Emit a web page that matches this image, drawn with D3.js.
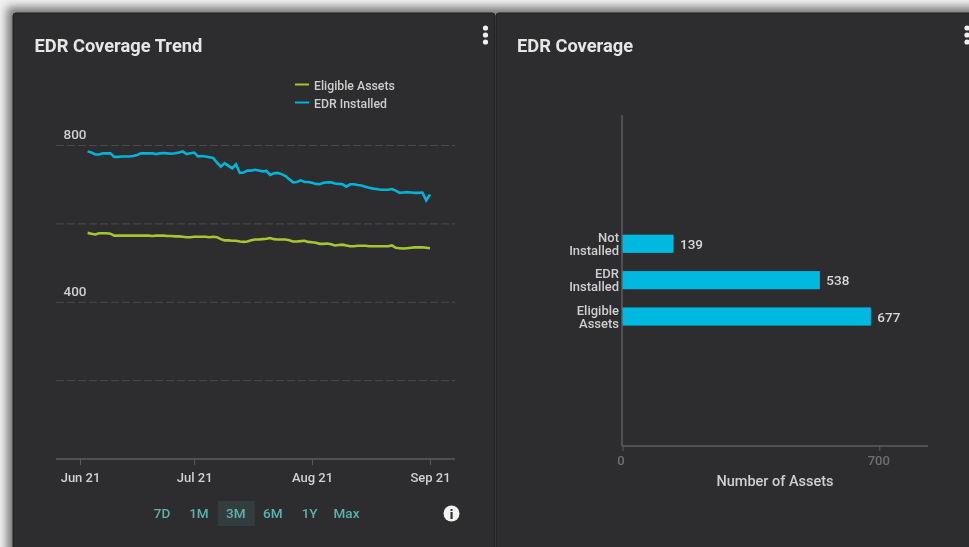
<!DOCTYPE html>
<html>
<head>
<meta charset="utf-8">
<title>EDR Coverage</title>
<script src="https://cdn.jsdelivr.net/npm/d3@7"></script>
<style>
  html, body { margin: 0; padding: 0; background: #f1f1f1; overflow: hidden; }
  svg { display: block; font-family: Roboto, sans-serif; }
  #wrap { filter: blur(0.45px); }
</style>
</head>
<body>
<div id="wrap"><svg id="chart" width="969" height="547"></svg></div>
<script>
// daily readings, Jun 23 to Sep 21
const startDay = new Date(2021, 5, 23);
const eligibleAssets = [577,575,573,576,576,576,575,570,570,570,570,570,570,570,570,570,570,569,570,570,570,569,569,568,568,567,566,566,567,567,567,567,566,567,566,561,558,558,557,557,555,554,555,558,560,560,561,562,564,561,560,560,560,558,555,555,556,557,554,553,552,549,549,550,548,545,546,547,545,543,543,544,544,544,543,543,543,543,543,543,545,539,538,537,538,539,540,540,540,539,538];
const edrInstalled = [785,782,777,777,780,780,780,771,771,772,772,772,773,776,780,780,780,780,778,780,781,780,779,780,782,785,778,780,782,772,773,772,770,768,756,746,755,748,742,752,730,731,736,736,738,736,734,735,725,729,730,727,722,714,706,707,711,707,707,705,702,701,705,706,706,703,702,701,695,701,701,699,698,695,692,690,689,687,687,687,689,685,679,680,681,680,679,679,680,660,675];

const trendTicks = [new Date(2021, 5, 21), new Date(2021, 6, 21), new Date(2021, 7, 21), new Date(2021, 8, 21)];
const gridValues = [200, 400, 600, 800];
const labelledValues = [400, 800];
const rangeButtons = ["7D", "1M", "3M", "6M", "1Y", "Max"];
const activeRange = "3M";

const barCategories = [["Not", "Installed"], ["EDR", "Installed"], ["Eligible", "Assets"]];
const barValues = [139, 538, 677];
const barTicks = [0, 700];

const cardColor = "#2d2d2f";
const blue = "#00b4d8";
const green = "#a5c62f";

const svg = d3.select("#chart");

// page behind the cards
const defs = svg.append("defs");
defs.append("filter").attr("id", "shade")
  .attr("x", "-5%").attr("y", "-5%").attr("width", "110%").attr("height", "110%")
  .append("feGaussianBlur").attr("stdDeviation", 5);

svg.append("rect").attr("width", 969).attr("height", 547).attr("fill", "#f1f1f1");
svg.append("rect")
  .attr("x", 7).attr("y", 7).attr("width", 980).attr("height", 560)
  .attr("fill", "#777").attr("filter", "url(#shade)");

function card(x, w) {
  svg.append("rect")
    .attr("x", x).attr("y", 13).attr("width", w).attr("height", 540).attr("rx", 3)
    .attr("fill", cardColor).attr("stroke", "#1f1f20");
}
card(13, 482);
card(496, 480);

function kebab(x) {
  svg.append("g").selectAll("circle")
    .data([28, 35, 42])
    .enter().append("circle")
    .attr("cx", x).attr("cy", d => d).attr("r", 2.6)
    .attr("fill", "#f0f0f0");
}
kebab(485.5);
kebab(967);

function title(x, txt) {
  svg.append("text")
    .attr("x", x).attr("y", 52)
    .attr("font-size", 18.3).attr("font-weight", 700)
    .attr("fill", "#e6e6e6")
    .text(txt);
}
title(34.5, "EDR Coverage Trend");
title(517, "EDR Coverage");

// ---- trend chart ----
const x = d3.scaleTime()
  .domain([trendTicks[0], trendTicks[3]])
  .range([80, 430]);
const y = d3.scaleLinear().domain([0, 800]).range([459, 145.5]);

const grid = svg.append("g");
grid.selectAll("line")
  .data(gridValues)
  .enter().append("line")
  .attr("x1", 56).attr("x2", 455)
  .attr("y1", d => y(d)).attr("y2", d => y(d))
  .attr("stroke", "#4a4a4c")
  .attr("stroke-dasharray", "8 3");

grid.selectAll("text")
  .data(labelledValues)
  .enter().append("text")
  .attr("x", 75).attr("y", d => y(d) - 6.5)
  .attr("text-anchor", "middle")
  .attr("font-size", 13.5)
  .attr("font-weight", 500)
  .attr("fill", "#cfcfcf")
  .text(d => d);

const xAxis = svg.append("g")
  .attr("transform", "translate(0,459)")
  .call(d3.axisBottom(x)
    .tickValues(trendTicks)
    .tickSize(6)
    .tickPadding(8)
    .tickFormat(d3.timeFormat("%b %y")));
xAxis.select(".domain").remove();
xAxis.selectAll("line").attr("stroke", "#5c5c5e");
xAxis.selectAll("text")
  .attr("font-family", "Roboto, sans-serif")
  .attr("font-size", 13)
  .attr("font-weight", 500)
  .attr("fill", "#d2d2d2");

svg.append("line")
  .attr("x1", 56).attr("x2", 455)
  .attr("y1", 459).attr("y2", 459)
  .attr("stroke", "#5c5c5e").attr("stroke-width", 1.5);

const line = d3.line()
  .x((d, i) => x(d3.timeDay.offset(startDay, i)))
  .y(d => y(d));

svg.append("path").datum(eligibleAssets)
  .attr("d", line).attr("fill", "none")
  .attr("stroke", green).attr("stroke-width", 2.6);
svg.append("path").datum(edrInstalled)
  .attr("d", line).attr("fill", "none")
  .attr("stroke", blue).attr("stroke-width", 2.6);

// legend
const legend = svg.append("g").selectAll("g")
  .data([["Eligible Assets", green, 84.5], ["EDR Installed", blue, 102.5]])
  .enter().append("g");
legend.append("line")
  .attr("x1", 295).attr("x2", 309)
  .attr("y1", d => d[2]).attr("y2", d => d[2])
  .attr("stroke", d => d[1]).attr("stroke-width", 2);
legend.append("text")
  .attr("x", 314).attr("y", d => d[2] + 5.5)
  .attr("font-size", 12.3)
  .attr("font-weight", 500)
  .attr("fill", "#cdcdcd")
  .text(d => d[0]);

// range buttons
const btnX = d3.scalePoint().domain(rangeButtons).range([162, 346.5]);
svg.append("rect")
  .attr("x", btnX(activeRange) - 18).attr("y", 501)
  .attr("width", 37).attr("height", 25)
  .attr("fill", "#343d3e");
svg.append("g").selectAll("text")
  .data(rangeButtons)
  .enter().append("text")
  .attr("x", d => btnX(d)).attr("y", 518)
  .attr("text-anchor", "middle")
  .attr("font-size", 13.5).attr("font-weight", 500)
  .attr("fill", "#5cb3ae")
  .text(d => d);

svg.append("circle").attr("cx", 451.5).attr("cy", 513.5).attr("r", 8).attr("fill", "#f2f2f2");
svg.append("text")
  .attr("x", 451.5).attr("y", 518.5)
  .attr("text-anchor", "middle")
  .attr("font-size", 13).attr("font-weight", 900)
  .attr("fill", cardColor)
  .text("i");

// ---- bar chart ----
const bx = d3.scaleLinear().domain([0, 700]).range([622.5, 879.3]);
const by = d3.scaleBand()
  .domain(barCategories.map(d => d.join(" ")))
  .range([234.7, 325.6])
  .paddingInner(0.5);

svg.append("line")
  .attr("x1", 622).attr("x2", 622).attr("y1", 115).attr("y2", 446)
  .attr("stroke", "#5c5c5e").attr("stroke-width", 1.5);

const bxAxis = svg.append("g")
  .attr("transform", "translate(0,446)")
  .call(d3.axisBottom(bx).tickValues(barTicks).tickSize(5).tickPadding(5));
bxAxis.select(".domain").remove();
bxAxis.selectAll("line").attr("stroke", "#5c5c5e");
bxAxis.selectAll("text")
  .attr("font-family", "Roboto, sans-serif")
  .attr("font-size", 13)
  .attr("font-weight", 500)
  .attr("fill", "#6f6f71")
  .attr("dx", d => d === 0 ? -2 : -1);

svg.append("line")
  .attr("x1", 622).attr("x2", 928).attr("y1", 446).attr("y2", 446)
  .attr("stroke", "#5c5c5e").attr("stroke-width", 1.5);

svg.append("text")
  .attr("x", 775).attr("y", 486)
  .attr("text-anchor", "middle")
  .attr("font-size", 14.5)
  .attr("font-weight", 500)
  .attr("fill", "#cfcfcf")
  .text("Number of Assets");

const bars = svg.append("g").selectAll("g")
  .data(barCategories.map((c, i) => ({ cat: c, value: barValues[i] })))
  .enter().append("g");

bars.append("rect")
  .attr("x", bx(0))
  .attr("y", d => by(d.cat.join(" ")))
  .attr("width", d => bx(d.value) - bx(0))
  .attr("height", by.bandwidth())
  .attr("fill", "#00b9e0");

bars.append("text")
  .attr("x", d => bx(d.value) + 6.5)
  .attr("y", d => by(d.cat.join(" ")) + by.bandwidth() / 2 + 5)
  .attr("font-size", 13.5)
  .attr("font-weight", 500)
  .attr("fill", "#d8d8d8")
  .text(d => d.value);

// two line category labels, one text with tspans
const catLabels = bars.append("text")
  .attr("text-anchor", "end")
  .attr("font-size", 13)
  .attr("font-weight", 500)
  .attr("fill", "#cfcfcf");

catLabels.each(function(d) {
  const mid = by(d.cat.join(" ")) + by.bandwidth() / 2;
  d3.select(this).selectAll("tspan")
    .data(d.cat)
    .enter().append("tspan")
    .attr("x", 619)
    .attr("y", (t, i) => mid - 2 + i * 13)
    .text(t => t);
});
</script>
</body>
</html>
